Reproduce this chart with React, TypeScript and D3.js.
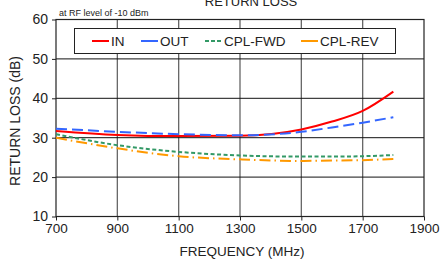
import { useEffect, useRef } from "react";
import * as d3 from "d3";

// frequency in MHz, return loss in dB
const FREQ = [700, 900, 1100, 1300, 1500, 1600, 1700, 1800];
const IN = [31.7, 30.7, 30.4, 30.5, 32.1, 34.1, 36.8, 41.7];
const OUT = [32.3, 31.5, 30.9, 30.6, 31.5, 32.6, 33.8, 35.2];
const CPL_FWD = [30.9, 28.1, 26.4, 25.5, 25.2, 25.2, 25.3, 25.6];
const CPL_REV = [30.0, 27.3, 25.3, 24.5, 24.1, 24.2, 24.3, 24.6];

const X_TICKS = [700, 900, 1100, 1300, 1500, 1700, 1900];
const Y_TICKS = [10, 20, 30, 40, 50, 60];

const SERIES = [
  { name: "IN", values: IN, color: "#ff0000", dash: "none", width: 2 },
  { name: "OUT", values: OUT, color: "#3366ff", dash: "11,5", width: 2 },
  { name: "CPL-FWD", values: CPL_FWD, color: "#339966", dash: "4,2.5", width: 2 },
  { name: "CPL-REV", values: CPL_REV, color: "#ff9900", dash: "11,4,1.5,4", width: 2 },
];

const W = 441;
const H = 263;
const M = { top: 19.5, right: 17, bottom: 46.5, left: 56 };
const FONT = "'Liberation Sans', Arial, sans-serif";

export default function App() {
  const svgRef = useRef<SVGSVGElement | null>(null);

  useEffect(() => {
    const svg = d3.select(svgRef.current);
    svg.selectAll("*").remove();

    const x = d3.scaleLinear().domain([700, 1900]).range([M.left, W - M.right]);
    const y = d3.scaleLinear().domain([10, 60]).range([H - M.bottom, M.top]);

    // grid
    svg
      .append("g")
      .selectAll("line")
      .data(X_TICKS.slice(1, -1))
      .join("line")
      .attr("x1", (d) => x(d))
      .attr("x2", (d) => x(d))
      .attr("y1", y(10))
      .attr("y2", y(60))
      .attr("stroke", "#666")
      .attr("stroke-width", 1.3);
    svg
      .append("g")
      .selectAll("line")
      .data(Y_TICKS.slice(1, -1))
      .join("line")
      .attr("x1", x(700))
      .attr("x2", x(1900))
      .attr("y1", (d) => y(d))
      .attr("y2", (d) => y(d))
      .attr("stroke", "#111")
      .attr("stroke-width", 1);

    // frame
    svg
      .append("rect")
      .attr("x", x(700))
      .attr("y", y(60))
      .attr("width", x(1900) - x(700))
      .attr("height", y(10) - y(60))
      .attr("fill", "none")
      .attr("stroke", "#222")
      .attr("stroke-width", 1.2);

    // axes
    const xAxis = svg
      .append("g")
      .attr("transform", `translate(0,${y(10)})`)
      .call(
        d3
          .axisBottom(x)
          .tickValues(X_TICKS)
          .tickFormat(d3.format("d"))
          .tickSize(4)
          .tickSizeOuter(0)
          .tickPadding(3)
      );
    xAxis.select(".domain").remove();
    xAxis.selectAll("line").attr("stroke", "#222");
    xAxis.selectAll("text").attr("font-size", 13.5).attr("font-family", FONT).attr("fill", "#222");

    const yAxis = svg
      .append("g")
      .attr("transform", `translate(${x(700)},0)`)
      .call(d3.axisLeft(y).tickValues(Y_TICKS).tickSize(4).tickSizeOuter(0).tickPadding(4));
    yAxis.select(".domain").remove();
    yAxis.selectAll("line").attr("stroke", "#222");
    yAxis.selectAll("text").attr("font-size", 14).attr("font-family", FONT).attr("fill", "#222");

    // lines
    const line = d3
      .line<number>()
      .x((_d, i) => x(FREQ[i]))
      .y((d) => y(d))
      .curve(d3.curveMonotoneX);
    svg
      .append("g")
      .selectAll("path")
      .data(SERIES)
      .join("path")
      .attr("d", (s) => line(s.values))
      .attr("fill", "none")
      .attr("stroke", (s) => s.color)
      .attr("stroke-width", (s) => s.width)
      .attr("stroke-dasharray", (s) => s.dash);

    // legend
    const lg = svg.append("g");
    lg.append("rect")
      .attr("x", 74.5)
      .attr("y", 28.5)
      .attr("width", 321)
      .attr("height", 25)
      .attr("fill", "#fff")
      .attr("stroke", "#222")
      .attr("stroke-width", 1);
    const lx = [92, 141, 205, 301];
    SERIES.forEach((s, i) => {
      lg.append("line")
        .attr("x1", lx[i])
        .attr("x2", lx[i] + 17)
        .attr("y1", 41)
        .attr("y2", 41)
        .attr("stroke", s.color)
        .attr("stroke-width", 2)
        .attr("stroke-dasharray", s.name === "CPL-FWD" ? "4,2" : "none");
      lg.append("text")
        .attr("x", lx[i] + 19)
        .attr("y", 46)
        .attr("font-size", 13.5)
        .attr("font-family", FONT)
        .attr("fill", "#222")
        .text(s.name);
    });

    // titles
    svg
      .append("text")
      .attr("x", 251)
      .attr("y", 6)
      .attr("text-anchor", "middle")
      .attr("font-size", 13)
      .attr("font-family", FONT)
      .attr("fill", "#222")
      .text("RETURN LOSS");
    svg
      .append("text")
      .attr("x", 59)
      .attr("y", 16)
      .attr("font-size", 9)
      .attr("font-family", FONT)
      .attr("fill", "#222")
      .text("at RF level of -10 dBm");
    svg
      .append("text")
      .attr("x", 242)
      .attr("y", 256)
      .attr("text-anchor", "middle")
      .attr("font-size", 13.5)
      .attr("font-family", FONT)
      .attr("fill", "#222")
      .text("FREQUENCY (MHz)");
    svg
      .append("text")
      .attr("transform", `translate(20,${(y(10) + y(60)) / 2 + 3}) rotate(-90)`)
      .attr("text-anchor", "middle")
      .attr("font-size", 14)
      .attr("font-family", FONT)
      .attr("fill", "#222")
      .text("RETURN LOSS (dB)");
  }, []);

  return (
    <svg
      ref={svgRef}
      width={W}
      height={H}
      style={{ position: "absolute", left: 0, top: 0, background: "#fff" }}
    />
  );
}
